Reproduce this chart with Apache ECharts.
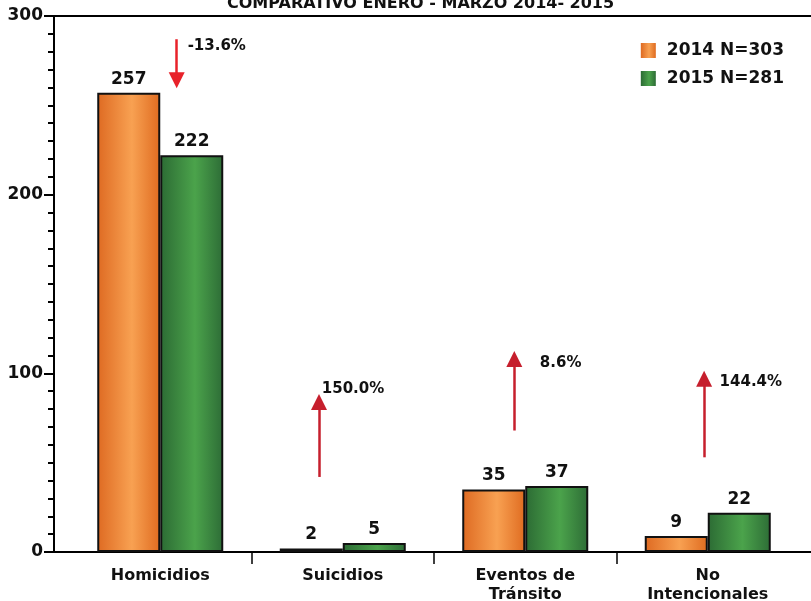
<!DOCTYPE html>
<html>
<head>
<meta charset="utf-8">
<script src="https://cdn.jsdelivr.net/npm/echarts@6/dist/echarts.min.js"></script>
<style>
  html, body { margin: 0; padding: 0; background: #fff; }
  #chart { width: 811px; height: 601px; }
</style>
</head>
<body>
<div id="chart"></div>
<script>
const titleText = 'COMPARATIVO ENERO - MARZO 2014- 2015'
const categories = ['Homicidios', 'Suicidios', 'Eventos de\nTránsito', 'No\nIntencionales']
const seriesNames = ['2014 N=303', '2015 N=281']
const values2014 = [257, 2, 35, 9]
const values2015 = [222, 5, 37, 22]
const yTicks = [0, 100, 200, 300]
const changeLabels = ['-13.6%', '150.0%', '8.6%', '144.4%']

// arrow annotations, in (category units, value units)
const arrowStart = [[0.59, 287], [1.37, 42], [2.44, 68], [3.48, 53]]
const arrowEnd = [[0.59, 264], [1.37, 84], [2.44, 108], [3.48, 97]]
const labelPos = [[0.65, 283], [1.385, 91], [2.58, 105.5], [3.565, 95]]
const arrowColors = ['#e8222a', '#c61f2d', '#c61f2d', '#c61f2d']

const font = 'DejaVu Sans'

const orange = new echarts.graphic.LinearGradient(0, 0, 1, 0, [
    {offset: 0, color: '#de6a22'},
    {offset: 0.55, color: '#f8a152'},
    {offset: 1, color: '#df6b20'}
])
const green = new echarts.graphic.LinearGradient(0, 0, 1, 0, [
    {offset: 0, color: '#2c6b34'},
    {offset: 0.55, color: '#4ba34b'},
    {offset: 1, color: '#2d6c36'}
])

const barLabel = {
    show: true,
    position: 'top',
    distance: 5,
    color: '#111',
    fontFamily: font,
    fontWeight: 'bold',
    fontSize: 17
}

const option = {
    animation: false,
    title: {
        text: titleText,
        left: 222,
        top: -9,
        textStyle: {fontFamily: font, fontWeight: 'bold', fontSize: 16, color: '#111'}
    },
    legend: {
        orient: 'vertical',
        right: 22,
        top: 37,
        itemWidth: 15,
        itemHeight: 15,
        itemGap: 11,
        icon: 'rect',
        itemStyle: {borderWidth: 0},
        textStyle: {fontFamily: font, fontWeight: 'bold', fontSize: 17, color: '#111', padding: [0, 0, 0, 6]},
        data: seriesNames
    },
    grid: [
        {left: 54, right: -10, top: 16, bottom: 49, show: true, borderColor: '#000', borderWidth: 2, outerBoundsMode: 'none'},
        {left: 69, right: 12, top: 16, bottom: 49, outerBoundsMode: 'none'}
    ],
    xAxis: [
        {gridIndex: 0, type: 'value', min: 0, max: 1, show: false},
        {
            gridIndex: 1,
            type: 'category',
            data: categories,
            axisLine: {show: false},
            axisTick: {show: false},
            axisLabel: {
                margin: 14,
                lineHeight: 19,
                color: '#111',
                fontFamily: font,
                fontWeight: 'bold',
                fontSize: 16
            }
        },
        {
            gridIndex: 1,
            type: 'value',
            min: 0,
            max: 4,
            position: 'bottom',
            axisLine: {show: false},
            axisLabel: {show: false},
            splitLine: {show: false},
            axisTick: {show: true, length: 12, customValues: [1, 2, 3], lineStyle: {color: '#000', width: 1.5}}
        }
    ],
    yAxis: [
        {
            gridIndex: 0,
            type: 'value',
            min: 0,
            max: 300,
            interval: 100,
            axisLine: {show: true, lineStyle: {color: '#000', width: 2}},
            axisTick: {show: true, length: 10, lineStyle: {color: '#000', width: 2}},
            minorTick: {show: true, splitNumber: 10, length: 6, lineStyle: {color: '#000', width: 2}},
            splitLine: {show: false},
            axisLabel: {
                margin: 11,
                color: '#111',
                fontFamily: font,
                fontWeight: 'bold',
                fontSize: 17,
                customValues: yTicks
            }
        },
        {gridIndex: 1, type: 'value', min: 0, max: 300, show: false}
    ],
    series: [
        {
            name: seriesNames[0],
            type: 'bar',
            xAxisIndex: 1,
            yAxisIndex: 1,
            data: values2014,
            barWidth: 63,
            barGap: '0%',
            itemStyle: {color: orange, borderColor: '#111', borderWidth: 2},
            label: barLabel
        },
        {
            name: seriesNames[1],
            type: 'bar',
            xAxisIndex: 1,
            yAxisIndex: 1,
            data: values2015,
            barWidth: 63,
            barGap: '0%',
            itemStyle: {color: green, borderColor: '#111', borderWidth: 2},
            label: barLabel
        },
        {
            name: 'cambio',
            type: 'scatter',
            xAxisIndex: 2,
            yAxisIndex: 1,
            symbolSize: 0,
            silent: true,
            itemStyle: {opacity: 1},
            data: labelPos.map((p, i) => ({value: p, name: changeLabels[i]})),
            label: {
                show: true,
                position: 'right',
                distance: 0,
                formatter: p => p.name,
                color: '#111',
                fontFamily: font,
                fontWeight: 'bold',
                fontSize: 15
            },
            markLine: {
                silent: true,
                symbol: ['none', 'triangle'],
                symbolSize: [16, 16],
                symbolOffset: [0, 0],
                label: {show: false},
                data: arrowStart.map((s, i) => [
                    {coord: s, lineStyle: {color: arrowColors[i], width: 2.5, type: 'solid'}, itemStyle: {color: arrowColors[i]}},
                    {coord: arrowEnd[i]}
                ])
            }
        }
    ]
}

const myChart = echarts.init(document.getElementById('chart'))
myChart.setOption(option)
</script>
</body>
</html>
